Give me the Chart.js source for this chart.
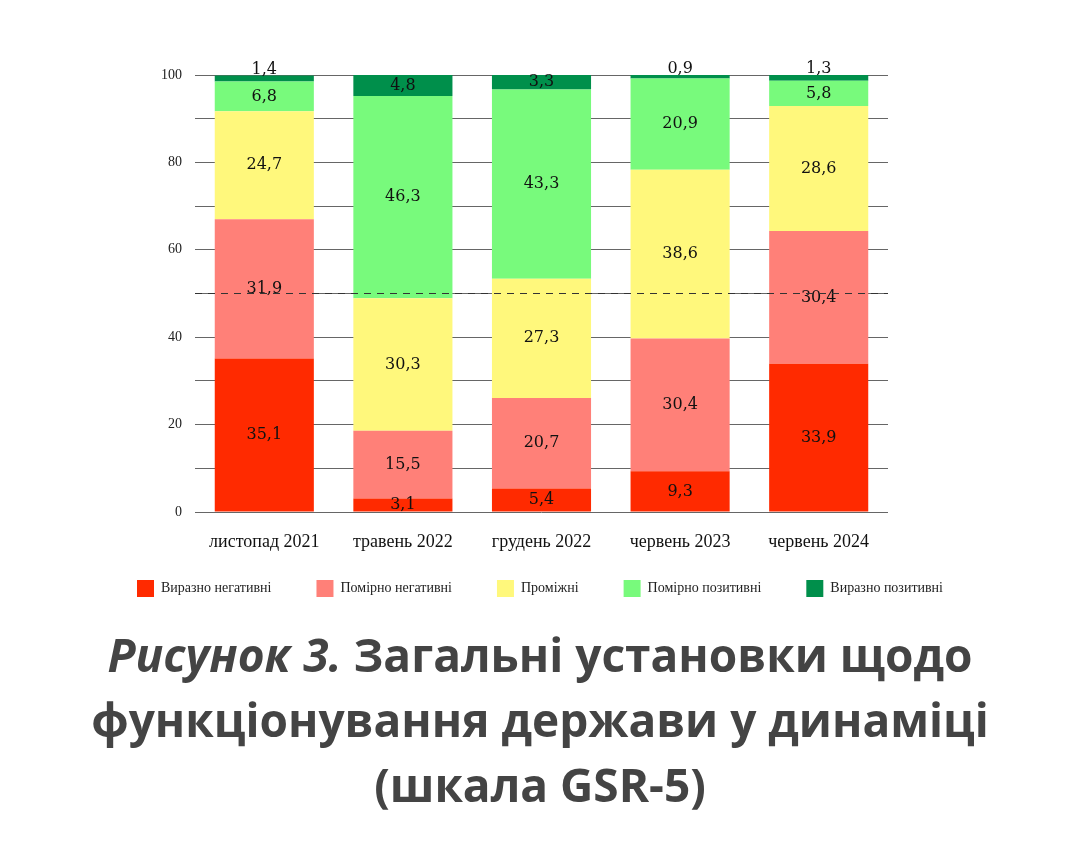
<!DOCTYPE html>
<html lang="uk">
<head>
    <meta charset="UTF-8">
    <title>Рисунок 3</title>
    <script src="https://cdn.jsdelivr.net/npm/chart.js"></script>
    <style>
        body { margin: 0; background: #fff; }
        .wrap { position: relative; width: 1080px; height: 867px; }
        #chart { position: absolute; left: 0; top: 0; }
        .caption {
            position: absolute; left: 0; top: 622px; width: 1080px;
            text-align: center; color: #444;
            font-family: "Open Sans", sans-serif; font-weight: 700;
            font-size: 46px; line-height: 65px;
        }
    </style>
</head>
<body>
<div class="wrap">
    <canvas id="chart" width="1080" height="626"></canvas>
    <div class="caption"><i>Рисунок 3.</i> Загальні установки щодо<br>функціонування держави у динаміці<br>(шкала GSR-5)</div>
</div>

<script>
    // chart data
    const periods = ['листопад 2021', 'травень 2022', 'грудень 2022', 'червень 2023', 'червень 2024'];
    const stronglyNegative = [35.1, 3.1, 5.4, 9.3, 33.9];
    const moderatelyNegative = [31.9, 15.5, 20.7, 30.4, 30.4];
    const intermediate = [24.7, 30.3, 27.3, 38.6, 28.6];
    const moderatelyPositive = [6.8, 46.3, 43.3, 20.9, 5.8];
    const stronglyPositive = [1.4, 4.8, 3.3, 0.9, 1.3];
    const seriesNames = ['Виразно негативні', 'Помірно негативні', 'Проміжні', 'Помірно позитивні', 'Виразно позитивні'];
    const seriesColors = ['#ff2a00', '#ff8078', '#fff87c', '#78fa7c', '#008f4b'];
    const yTicks = [0, 20, 40, 60, 80, 100];
    const refLine = 50;

    const seriesValues = [stronglyNegative, moderatelyNegative, intermediate, moderatelyPositive, stronglyPositive];
    const serif = '"Liberation Serif", "DejaVu Serif", serif';

    // value labels inside the segments, small ones go above the bar
    const segmentLabels = {
        id: 'segmentLabels',
        afterDatasetsDraw(chart) {
            const ctx = chart.ctx;
            ctx.save();
            ctx.font = '16px "DejaVu Serif", serif';
            ctx.fillStyle = '#111';
            ctx.textAlign = 'center';
            ctx.textBaseline = 'middle';
            chart.data.datasets.forEach((ds, i) => {
                chart.getDatasetMeta(i).data.forEach((bar, j) => {
                    const v = ds.data[j];
                    const txt = v.toFixed(1).replace('.', ',');
                    let y = (bar.y + bar.base) / 2;
                    if (v < 2) y = bar.y - 6;
                    ctx.fillText(txt, bar.x, y);
                });
            });
            ctx.restore();
        }
    };

    // dashed line at 50 drawn over the bars
    const dashedLine = {
        id: 'dashedLine',
        afterDatasetsDraw(chart) {
            const ctx = chart.ctx;
            const y = chart.scales.y.getPixelForValue(refLine);
            ctx.save();
            ctx.strokeStyle = '#333';
            ctx.lineWidth = 1.2;
            ctx.setLineDash([7, 6]);
            ctx.beginPath();
            ctx.moveTo(chart.chartArea.left, y);
            ctx.lineTo(chart.chartArea.right, y);
            ctx.stroke();
            ctx.restore();
        }
    };

    // pull the legend a bit closer to the axis labels
    const legendShift = {
        id: 'legendShift',
        afterLayout(chart) {
            chart.legend.top -= 19;
            chart.legend.bottom -= 19;
        }
    };

    const ctx = document.getElementById('chart').getContext('2d');
    new Chart(ctx, {
        type: 'bar',
        data: {
            labels: periods,
            datasets: seriesNames.map((name, i) => ({
                label: name,
                data: seriesValues[i],
                backgroundColor: seriesColors[i],
                borderWidth: 0,
                categoryPercentage: 1,
                barPercentage: 0.715
            }))
        },
        options: {
            responsive: false,
            animation: false,
            layout: { padding: { left: 0, right: 0, top: 75, bottom: 0 } },
            plugins: {
                tooltip: { enabled: false },
                legend: {
                    position: 'bottom',
                    labels: {
                        boxWidth: 17,
                        boxHeight: 17,
                        padding: 45,
                        color: '#222',
                        font: { family: serif, size: 14 }
                    }
                }
            },
            scales: {
                x: {
                    stacked: true,
                    grid: { display: false, drawTicks: false },
                    border: { display: false },
                    ticks: { color: '#111', padding: 19, font: { family: serif, size: 18 } },
                    afterFit(scale) { scale.height = 42; }
                },
                y: {
                    stacked: true,
                    min: 0,
                    max: 100,
                    afterFit(scale) { scale.width = 195; },
                    border: { display: false },
                    grid: { color: '#666', lineWidth: 1, drawTicks: false },
                    ticks: {
                        stepSize: 10,
                        padding: 13,
                        color: '#222',
                        font: { family: serif, size: 14 },
                        callback: v => yTicks.includes(v) ? v : ''
                    }
                },
                // empty axis that only keeps the right margin
                right: {
                    position: 'right',
                    display: true,
                    grid: { display: false },
                    border: { display: false },
                    ticks: { display: false },
                    afterFit(scale) { scale.width = 192; }
                }
            }
        },
        plugins: [segmentLabels, dashedLine, legendShift]
    });
</script>
</body>
</html>
